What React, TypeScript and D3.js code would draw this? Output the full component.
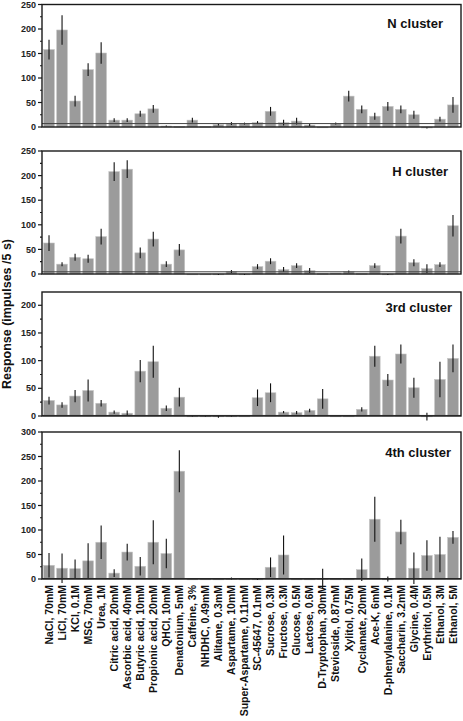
import React from "react";
import * as d3 from "d3";

const categories = [
  "NaCl, 70mM", "LiCl, 70mM", "KCl, 0.1M", "MSG, 70mM", "Urea, 1M",
  "Citric acid, 20mM", "Ascorbic acid, 40mM", "Butyric acid, 10mM", "Propionic acid, 20mM",
  "QHCl, 10mM", "Denatonium, 5mM", "Caffeine, 3%", "NHDHC, 0.49mM", "Alitame, 0.3mM",
  "Aspartame, 10mM", "Super-Aspartame, 0.11mM", "SC-45647, 0.1mM", "Sucrose, 0.3M",
  "Fructose, 0.3M", "Glucose, 0.5M", "Lactose, 0.6M", "D-Tryptophan, 30mM",
  "Stevioside, 0.87mM", "Xylitol, 0.75M", "Cyclamate, 20mM", "Ace-K, 6mM",
  "D-phenylalanine, 0.1M", "Saccharin, 3.2mM", "Glycine, 0.4M", "Erythritol, 0.5M",
  "Ethanol, 3M", "Ethanol, 5M",
];

const nClusterMean = [158, 198, 53, 117, 151, 14, 14, 27, 37, 2, 1, 14, 1, 5, 7, 7, 9, 32, 9, 12, 4, 0, 7, 63, 36, 22, 42, 36, 25, -2, 16, 45];
const nClusterErr = [20, 30, 11, 13, 22, 4, 4, 6, 8, 1, 0, 5, 0, 2, 3, 2, 3, 9, 6, 7, 2, 0, 2, 11, 8, 7, 9, 8, 8, 1, 5, 16];

const hClusterMean = [63, 20, 34, 31, 76, 208, 213, 43, 71, 20, 49, 0, 0, -1, 5, -1, 15, 26, 9, 17, 7, 1, 2, 5, 1, 17, -1, 77, 23, 11, 19, 98];
const hClusterErr = [16, 4, 7, 8, 16, 19, 18, 11, 15, 6, 12, 0, 0, 1, 3, 1, 5, 6, 5, 5, 5, 0, 0, 2, 0, 5, 1, 15, 7, 9, 5, 22];

const thirdClusterMean = [28, 20, 36, 46, 23, 7, 5, 81, 98, 14, 34, 0, 0, -1, 0, 0, 33, 42, 7, 6, 10, 31, 0, 0, 12, 108, 65, 112, 51, -1, 66, 104];
const thirdClusterErr = [7, 5, 11, 20, 6, 3, 5, 20, 29, 5, 17, 1, 1, 2, 1, 0, 15, 17, 2, 3, 3, 18, 0, 0, 4, 19, 11, 17, 18, 7, 32, 25];

const fourthClusterMean = [28, 22, 21, 37, 75, 12, 55, 26, 75, 52, 220, 0, 0, 0, 1, 0, 0, 24, 49, 0, 0, 1, 0, 0, 19, 122, 0, 96, 22, 48, 50, 85];
const fourthClusterErr = [25, 30, 19, 36, 34, 8, 17, 19, 45, 30, 43, 0, 0, 0, 2, 0, 2, 20, 40, 0, 0, 20, 0, 0, 23, 46, 5, 25, 32, 31, 36, 13];

const panelTitles = ["N cluster", "H cluster", "3rd cluster", "4th cluster"];
const panelMax = [250, 250, 224, 300];
const panelTickMax = [250, 250, 200, 300];
const panelThreshold = [7, 4.5, 1, 1];

const yTitle = "Response (impulses /5 s)";

const panelMeans = [nClusterMean, hClusterMean, thirdClusterMean, fourthClusterMean];
const panelErrs = [nClusterErr, hClusterErr, thirdClusterErr, fourthClusterErr];

// layout (pixels)
const W = 463;
const H = 721;
const X0 = 42;
const X1 = 461;
const panelLayout = [
  { top: 4.5, bottom: 127, titleX: 443, titleY: 28 },
  { top: 151, bottom: 274, titleX: 448, titleY: 176 },
  { top: 292, bottom: 416, titleX: 452, titleY: 312 },
  { top: 432, bottom: 579, titleX: 451, titleY: 457 },
];
const FONT = "'Liberation Sans', Arial, Helvetica, sans-serif";

function Panel({ idx, x }: { idx: number; x: d3.ScaleBand<string> }) {
  const lay = panelLayout[idx];
  const y = d3.scaleLinear().domain([0, panelMax[idx]]).range([lay.bottom, lay.top]);
  const means = panelMeans[idx];
  const errs = panelErrs[idx];
  const major = d3.range(0, panelTickMax[idx] + 1, 50);
  const minor = d3.range(25, panelMax[idx] + 0.1, 50);
  const bw = x.bandwidth();
  return (
    <g>
      {categories.map((c, i) => {
        const v = means[i];
        const y0 = y(0);
        const yv = y(v);
        const top = Math.min(y0, yv);
        const h = Math.max(Math.abs(y0 - yv), 0.8);
        const cx = (x(c) as number) + bw / 2;
        return (
          <g key={c}>
            <rect x={x(c)} y={v < 0 ? y0 : top} width={bw} height={h}
              fill="#9b9b9b" stroke="#c4c4c4" strokeWidth={0.6} />
            {errs[i] > 0 && (
              <line x1={cx} x2={cx} y1={y(v + errs[i])} y2={y(v - errs[i])}
                stroke="#111" strokeWidth={1.1} />
            )}
          </g>
        );
      })}
      <line x1={X0} x2={X1} y1={y(panelThreshold[idx])} y2={y(panelThreshold[idx])}
        stroke="#444" strokeWidth={1} />
      <rect x={X0} y={lay.top} width={X1 - X0} height={lay.bottom - lay.top}
        fill="none" stroke="#1a1a1a" strokeWidth={1.4} />
      {major.map((t) => (
        <g key={"M" + t}>
          <line x1={X0 - 4} x2={X0} y1={y(t)} y2={y(t)} stroke="#1a1a1a" strokeWidth={1.2} />
          <text x={X0 - 6} y={y(t)} dy="0.35em" textAnchor="end" fontSize={9}
            fontWeight="bold" fontFamily={FONT} fill="#222">{t}</text>
        </g>
      ))}
      {minor.map((t) => (
        <line key={"m" + t} x1={X0 - 2} x2={X0} y1={y(t)} y2={y(t)} stroke="#1a1a1a" strokeWidth={1.2} />
      ))}
      <text x={lay.titleX} y={lay.titleY} textAnchor="end" fontSize={13} fontWeight="bold"
        fontFamily={FONT} fill="#111">{panelTitles[idx]}</text>
    </g>
  );
}

export default function App() {
  const x = d3.scaleBand<string>().domain(categories).range([X0 + 0.5, X1 - 1.5])
    .paddingInner(0.18).paddingOuter(0.09);
  const labelTop = 585;
  return (
    <svg width={W} height={H} style={{ position: "absolute", left: 0, top: 0, background: "#fff" }}>
      <rect x={0} y={0} width={W} height={H} fill="#fff" />
      {panelTitles.map((_, i) => <Panel key={i} idx={i} x={x} />)}
      {categories.map((c) => {
        const cx = (x(c) as number) + x.bandwidth() / 2;
        return (
          <text key={c} transform={`translate(${cx},${labelTop}) rotate(-90)`} dy="0.36em"
            textAnchor="end" fontSize={10.5} fontWeight="bold" fontFamily={FONT} fill="#111">{c}</text>
        );
      })}
      <text transform={`translate(11,314) rotate(-90)`} textAnchor="middle" fontSize={12.5}
        fontWeight="bold" fontFamily={FONT} fill="#111">{yTitle}</text>
    </svg>
  );
}
